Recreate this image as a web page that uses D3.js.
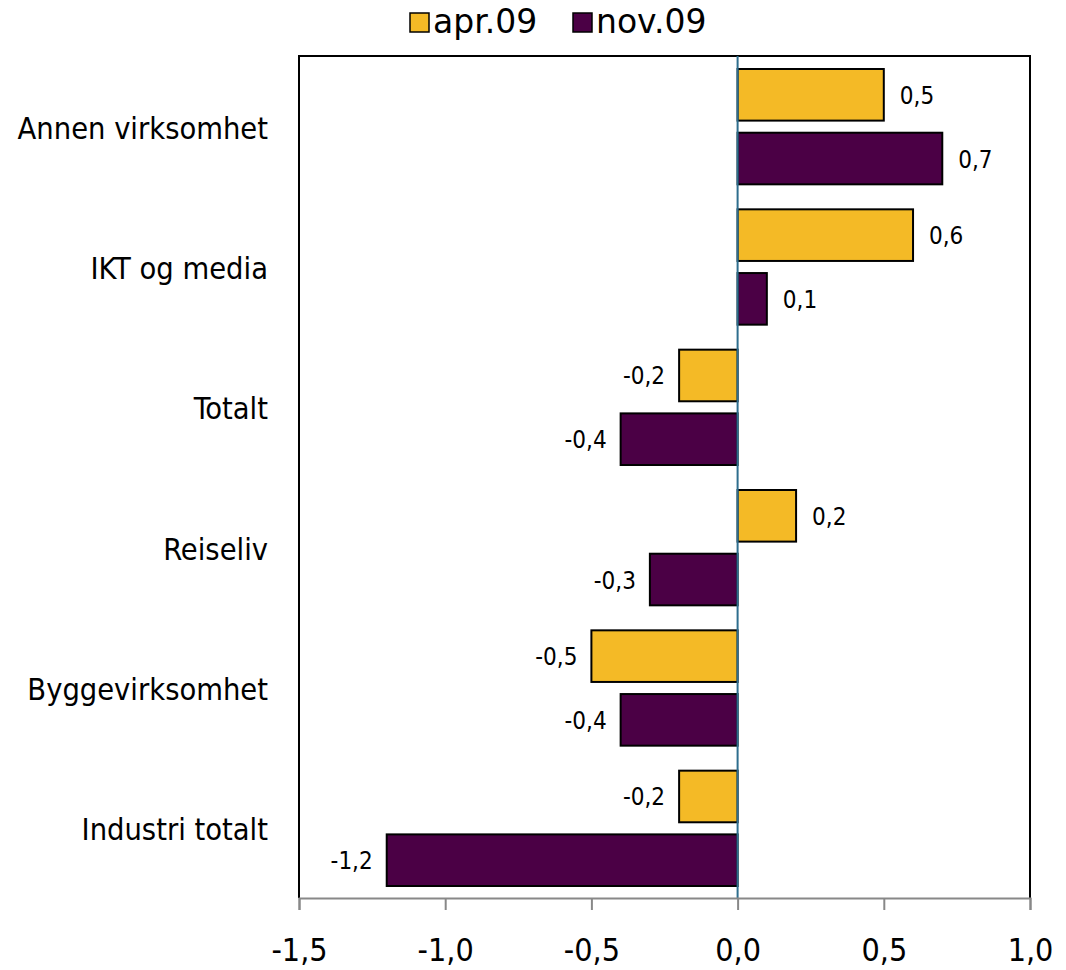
<!DOCTYPE html>
<html>
<head>
<meta charset="utf-8">
<script src="https://cdn.jsdelivr.net/npm/d3@7"></script>
<style>
  body { margin: 0; background: #fff; }
  svg text { font-family: "DejaVu Sans Condensed", "DejaVu Sans", sans-serif; font-stretch: condensed; }
  svg text.leg { font-family: "DejaVu Sans", sans-serif; font-stretch: normal; }
</style>
</head>
<body>
<div id="chart"></div>
<script>
// data
const categories = ["Annen virksomhet", "IKT og media", "Totalt", "Reiseliv", "Byggevirksomhet", "Industri totalt"];
const seriesNames = ["apr.09", "nov.09"];
const apr09 = [0.5, 0.6, -0.2, 0.2, -0.5, -0.2];
const nov09 = [0.7, 0.1, -0.4, -0.3, -0.4, -1.2];
const xTicks = [-1.5, -1.0, -0.5, 0.0, 0.5, 1.0];
const colors = ["#F4BA26", "#4B0045"];

const seriesValues = [apr09, nov09];
const rows = [];
categories.forEach((c, i) => {
  seriesNames.forEach((s, j) => rows.push({ cat: c, series: s, value: seriesValues[j][i], j }));
});

const W = 1066, H = 970;
const plot = { left: 299, right: 1030, top: 56, bottom: 898 };

const svg = d3.select("#chart").append("svg")
  .attr("width", W).attr("height", H);

const fmt = v => d3.format(".1f")(v).replace(".", ",").replace("−", "-");

const x = d3.scaleLinear().domain([-1.5, 1.0]).range([plot.left, plot.right]);
const y0 = d3.scaleBand().domain(categories).range([plot.top, plot.bottom]).padding(0);
const y1 = d3.scaleBand().domain(seriesNames).range([13, y0.bandwidth() - 12]).paddingInner(0.19);

// ramme rundt plottet (topp, venstre, høyre)
svg.append("path")
  .attr("d", `M${plot.left},${plot.bottom} V${plot.top} H${plot.right} V${plot.bottom}`)
  .attr("fill", "none").attr("stroke", "#000").attr("stroke-width", 2);

// stolper
svg.selectAll("rect.bar").data(rows).enter().append("rect")
  .attr("class", "bar")
  .attr("x", d => x(Math.min(0, d.value)))
  .attr("y", d => y0(d.cat) + y1(d.series))
  .attr("width", d => Math.abs(x(d.value) - x(0)))
  .attr("height", y1.bandwidth())
  .attr("fill", d => colors[d.j])
  .attr("stroke", "#000").attr("stroke-width", 2);

// nullinje
svg.append("line")
  .attr("x1", x(0)).attr("x2", x(0))
  .attr("y1", plot.top).attr("y2", plot.bottom)
  .attr("stroke", "#2E6E8E").attr("stroke-width", 2);

// verdietiketter
svg.selectAll("text.val").data(rows).enter().append("text")
  .attr("class", "val")
  .attr("x", d => d.value >= 0 ? x(d.value) + 16 : x(d.value) - 14)
  .attr("y", d => y0(d.cat) + y1(d.series) + y1.bandwidth() / 2 + 1)
  .attr("text-anchor", d => d.value >= 0 ? "start" : "end")
  .attr("dominant-baseline", "central")
  .attr("font-size", 24)
  .attr("fill", "#000")
  .text(d => fmt(d.value));

// kategorietiketter
svg.selectAll("text.cat").data(categories).enter().append("text")
  .attr("class", "cat")
  .attr("x", 268)
  .attr("y", d => y0(d) + y0.bandwidth() / 2 + 2)
  .attr("text-anchor", "end")
  .attr("dominant-baseline", "central")
  .attr("font-size", 30.5)
  .text(d => d);

// x-akse
const xAxis = d3.axisBottom(x).tickValues(xTicks).tickSize(12).tickPadding(28)
  .tickFormat(d => fmt(d));
const gx = svg.append("g")
  .attr("transform", `translate(0,${plot.bottom})`)
  .call(xAxis);
gx.attr("font-family", null).attr("font-size", null);
gx.select(".domain").attr("stroke", "#888").attr("stroke-width", 2);
gx.selectAll(".tick line").attr("stroke", "#888").attr("stroke-width", 2);
gx.selectAll(".tick text").attr("font-size", 32).attr("fill", "#000");

// forklaring
const legend = svg.append("g").attr("transform", "translate(410,13)");
const item = legend.selectAll("g").data(seriesNames).enter().append("g")
  .attr("transform", (d, i) => `translate(${i * 163},0)`);
item.append("rect")
  .attr("width", 19).attr("height", 19)
  .attr("fill", (d, i) => colors[i])
  .attr("stroke", "#000").attr("stroke-width", 1.5);
item.append("text")
  .attr("class", "leg")
  .attr("x", 23).attr("y", 20)
  .attr("font-size", 33)
  .text(d => d);
</script>
</body>
</html>
